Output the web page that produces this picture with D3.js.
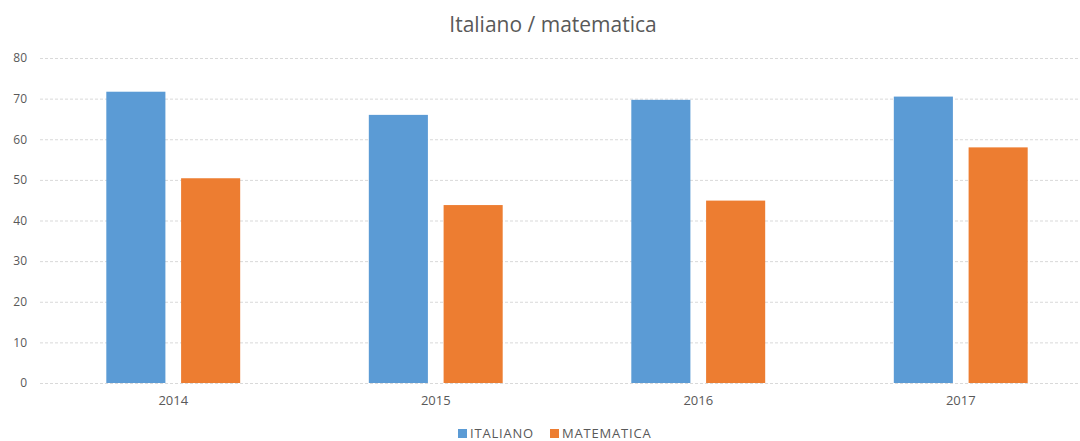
<!DOCTYPE html>
<html>
<head>
<meta charset="utf-8">
<script src="https://cdn.jsdelivr.net/npm/d3@7"></script>
<style>
    body { margin: 0; background: #fff; }
    svg { display: block; font-family: "Open Sans", sans-serif; }
</style>
</head>
<body>
<svg id="chart" width="1080" height="441"></svg>
<script>
// values
const years = ['2014', '2015', '2016', '2017'];
const seriesNames = ['ITALIANO', 'MATEMATICA'];
const italiano = [71.7, 66.0, 69.7, 70.5];
const matematica = [50.4, 43.8, 44.9, 58.0];
const yTicks = [0, 10, 20, 30, 40, 50, 60, 70, 80];
const colors = ['#5b9bd5', '#ed7d31'];

const svg = d3.select('#chart');
const values = [italiano, matematica];

//plot area runs past the right edge of the picture (cropped screenshot)
const plot = {left: 42, right: 1092, top: 58, bottom: 383};

const yScale = d3.scaleLinear()
    .domain([0, 80])
    .range([plot.bottom, plot.top]);

const x0 = d3.scaleBand()
    .domain(years)
    .range([plot.left, plot.right])
    .padding(0);

const groupPad = x0.bandwidth() * 0.245;
const x1 = d3.scaleBand()
    .domain(seriesNames)
    .range([groupPad, x0.bandwidth() - groupPad])
    .paddingInner(0.21)
    .paddingOuter(0);

// title
svg.append('text')
    .attr('x', 553)
    .attr('y', 32)
    .attr('text-anchor', 'middle')
    .attr('fill', '#595959')
    .attr('font-size', 21)
    .text('Italiano / matematica');

// grid
svg.append('g')
    .attr('class', 'grid')
    .attr('transform', `translate(40, 0)`)
    .call(d3.axisLeft(yScale)
        .tickValues(yTicks)
        .tickSize(-1040)
        .tickFormat(''))
    .call(g => g.select('.domain').remove())
    .call(g => g.selectAll('line')
        .attr('stroke', '#d9d9d9')
        .attr('stroke-dasharray', '3,2'));

// y axis labels
svg.append('g')
    .attr('transform', `translate(27, 0)`)
    .call(d3.axisLeft(yScale)
        .tickValues(yTicks)
        .tickSize(0)
        .tickPadding(0))
    .call(g => g.select('.domain').remove())
    .call(g => g.selectAll('text')
        .attr('fill', '#595959')
        .attr('font-size', 12)
        .attr('font-family', '"Open Sans", sans-serif'));

// bars
seriesNames.forEach((name, i) => {
    svg.append('g')
        .selectAll('rect')
        .data(years.map((y, j) => ({x: y, y: values[i][j]})))
        .enter().append('rect')
        .attr('x', d => x0(d.x) + x1(name))
        .attr('y', d => yScale(d.y))
        .attr('width', x1.bandwidth())
        .attr('height', d => yScale(0) - yScale(d.y))
        .attr('fill', colors[i]);
});

// x axis labels
svg.append('g')
    .attr('transform', `translate(0, ${plot.bottom + 13})`)
    .call(d3.axisBottom(x0).tickSize(0).tickPadding(0))
    .call(g => g.select('.domain').remove())
    .call(g => g.selectAll('text')
        .attr('fill', '#595959')
        .attr('font-size', 13)
        .attr('font-family', '"Open Sans", sans-serif'));

// legend
const legendItems = [{name: 'ITALIANO', x: 458}, {name: 'MATEMATICA', x: 550}];
const legend = svg.append('g');
legendItems.forEach((item, i) => {
    legend.append('rect')
        .attr('x', item.x)
        .attr('y', 429)
        .attr('width', 9)
        .attr('height', 9)
        .attr('fill', colors[i]);
    legend.append('text')
        .attr('x', item.x + 12)
        .attr('y', 438)
        .attr('fill', '#595959')
        .attr('font-size', 13)
        .attr('letter-spacing', 0.8)
        .text(item.name);
});
</script>
</body>
</html>
